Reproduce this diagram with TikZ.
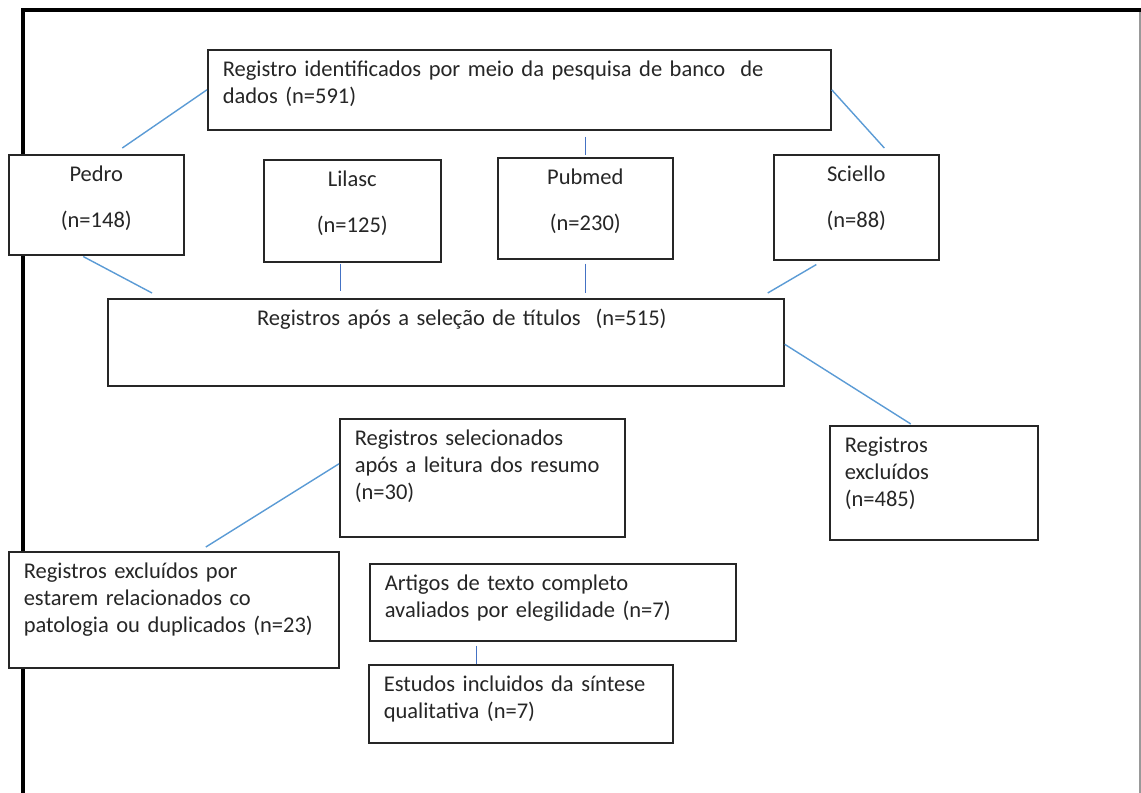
\documentclass[tikz,border=0pt]{standalone}
\usepackage{fontspec}
\setmainfont{Carlito}
\definecolor{linkblue}{HTML}{5B9BD5}
\definecolor{stemblue}{HTML}{4472C4}
\newcommand{\boxfont}{\fontsize{16pt}{19.2pt}\selectfont}

\begin{document}
\begin{tikzpicture}[x=0.025cm, y=-0.025cm,
  box/.style={draw=black!85, line width=1.1pt, fill=white, anchor=north west, inner xsep=0.375cm, inner ysep=0.2cm, text height=0.475cm, align=left, text=black!85, font=\boxfont},
  link/.style={draw=linkblue, line width=1pt},
  stem/.style={draw=stemblue, line width=0.7pt}]
\useasboundingbox (0,0) rectangle (1141,793);
\draw[line width=3pt] (23,793) -- (23,10) -- (1141,10);
\draw[black!40, line width=0.8pt] (1140,12) -- (1140,793);
\node[box, text width=14.825cm, text depth=1.125cm] (top) at (207,49) {Registro identificados por meio da pesquisa de banco \ de\\dados (n=591)};
\node[box, align=center, text width=3.625cm, text depth=1.625cm] (pedro) at (8,154) {Pedro\\[13pt](n=148)};
\node[box, align=center, text width=3.675cm, text depth=1.675cm] (lilasc) at (263,159) {Lilasc\\[13pt](n=125)};
\node[box, align=center, text width=3.625cm, text depth=1.65cm] (pubmed) at (497,157) {Pubmed\\[13pt](n=230)};
\node[box, align=center, text width=3.375cm, text depth=1.75cm] (sciello) at (773,154) {Sciello\\[13pt](n=88)};
\node[box, align=center, text width=16.15cm, text depth=1.3cm] (titles) at (107,298) {\hspace*{0.8cm}Registros após a seleção de títulos \ (n=515)};
\node[box, text width=6.375cm, text depth=2.075cm] (selec) at (339,418) {Registros selecionados\\após a leitura dos resumo\\(n=30)};
\node[box, text width=4.45cm, text depth=1.975cm] (excl) at (829,425) {Registros\\excluídos\\(n=485)};
\node[box, text width=7.5cm, text depth=2.025cm] (excl23) at (8,551) {Registros excluídos por\\estarem relacionados co\\patologia ou duplicados (n=23)};
\node[box, text width=8.4cm, text depth=1.05cm] (artigos) at (369,563) {Artigos de texto completo\\avaliados por elegilidade (n=7)};
\node[box, text width=6.85cm, text depth=1.075cm] (estudos) at (368,664) {Estudos incluidos da síntese\\qualitativa (n=7)};
\draw[link] (top.west) -- ([shift={(26,-6)}]pedro.north);
\draw[link] (top.east) -- ([shift={(28,-6)}]sciello.north);
\draw[stem, shorten <=0.15cm, shorten >=0.05cm] (top.south -| pubmed.north) -- (pubmed.north);
\draw[link] ([shift={(-13,1)}]pedro.south) -- ([shift={(45,-5)}]titles.north west);
\coordinate (lil) at ([shift={(-12,1)}]lilasc.south);
\draw[stem, shorten >=0.175cm] (lil) -- (lil |- titles.north);
\draw[stem, shorten <=0.1cm, shorten >=0.125cm] (pubmed.south) -- (pubmed.south |- titles.north);
\draw[link] ([shift={(-40,4)}]sciello.south) -- ([shift={(-17,-5)}]titles.north east);
\draw[link] ([shift={(0,2)}]titles.east) -- ([shift={(-23,-1)}]excl.north);
\draw[link] ([shift={(0,-14)}]selec.west) -- ([shift={(32,-4)}]excl23.north);
\coordinate (art) at ([shift={(-76,4)}]artigos.south);
\draw[stem] (art) -- (art |- estudos.north);
\end{tikzpicture}
\end{document}
